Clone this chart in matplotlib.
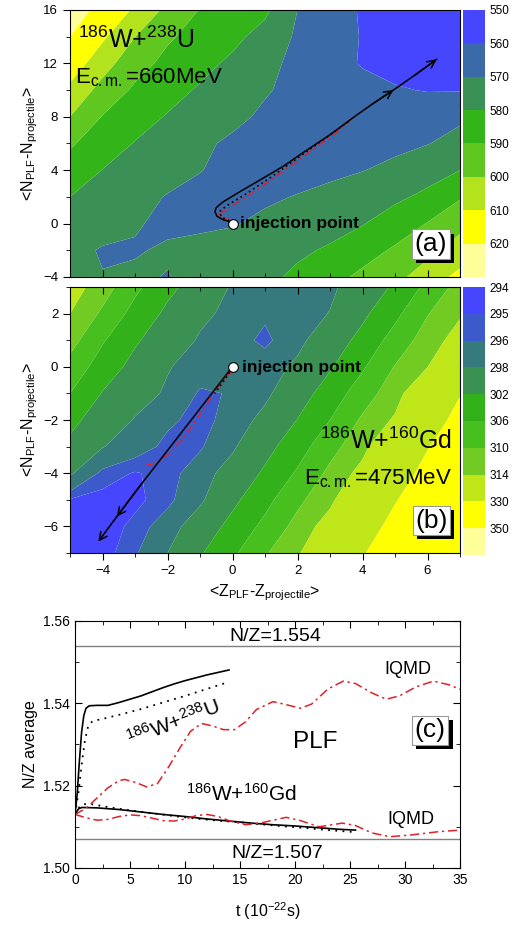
import numpy as np
import matplotlib.pyplot as plt
import matplotlib.patheffects as pe
from matplotlib.ticker import MultipleLocator

plt.rcParams['font.family'] = ['Liberation Sans', 'DejaVu Sans']
plt.rcParams['mathtext.fontset'] = 'custom'
plt.rcParams['mathtext.rm'] = 'Liberation Sans'
plt.rcParams['mathtext.it'] = 'Liberation Sans:italic'
plt.rcParams['mathtext.bf'] = 'Liberation Sans:bold'

# ---------------- (a) 186W+238U, potential surface (MeV) ----------------
z_grid = [-5, -4, -3, -2, -1, 0, 1, 2, 3, 4, 5, 6, 7]
n_rows_a = [16, 14, 12, 10, 8, 6, 4, 2, 0, -2, -4]
pes_a = [
    [625.0, 616.9, 608.8, 597.5, 589.6, 585.8, 582.0, 570.0, 564.7, 559.0, 556.0, 555.0, 555.0],
    [620.0, 611.7, 600.1, 591.3, 586.5, 582.5, 576.4, 568.6, 564.1, 559.5, 556.0, 555.0, 556.0],
    [616.0, 604.0, 593.8, 587.4, 583.0, 578.1, 572.5, 567.7, 563.4, 559.3, 557.0, 557.0, 558.0],
    [607.6, 596.6, 588.4, 583.6, 578.9, 574.9, 570.8, 567.5, 565.0, 563.0, 560.8, 559.5, 559.5],
    [600.0, 589.6, 584.3, 579.3, 575.7, 572.1, 568.5, 566.5, 565.5, 565.0, 565.5, 566.5, 568.5],
    [591.1, 585.2, 579.5, 575.5, 571.6, 568.5, 566.5, 565.5, 565.5, 566.0, 567.5, 569.7, 573.0],
    [586.2, 579.8, 576.6, 573.5, 570.3, 567.5, 566.0, 566.0, 567.5, 569.7, 572.5, 576.0, 580.0],
    [580.0, 576.4, 572.9, 569.5, 567.5, 567.5, 568.5, 570.5, 573.1, 575.6, 578.2, 582.1, 589.1],
    [576.0, 573.5, 570.5, 568.8, 568.5, 569.3, 572.0, 574.5, 577.0, 579.5, 584.6, 590.4, 597.7],
    [572.5, 569.3, 569.5, 570.8, 572.5, 574.5, 576.5, 578.6, 581.0, 586.1, 591.3, 597.5, 603.6],
    [572.0, 570.3, 571.0, 569.7, 572.5, 575.5, 578.0, 581.6, 586.8, 592.1, 597.4, 604.5, 613.0],
]
levels_a = [550, 560, 570, 580, 590, 600, 610, 620]
colors_a = ['#4646ff', '#3b6aa8', '#3b9155', '#33b51a', '#5fc71f', '#b3e31d', '#ffff00', '#ffff99']

path_a_z = [-0.1, -0.3, -0.48, -0.54, -0.5, -0.28, 0.2, 0.85, 1.6, 2.1, 3.0, 3.72, 4.3, 4.95, 5.6, 6.28]
path_a_n = [0.15, 0.3, 0.55, 0.9, 1.2, 1.64, 2.35, 3.27, 4.35, 5.2, 6.65, 7.95, 8.95, 10.0, 11.1, 12.3]
dot_a_z = [-0.1, -0.35, -0.4, -0.2, 0.4, 1.2, 2.0, 2.8, 3.6]
dot_a_n = [0.2, 0.5, 0.9, 1.3, 2.2, 3.5, 4.9, 6.3, 7.7]
red_a_z = [0.0, -0.15, -0.35, -0.45, -0.3, 0.1, 0.6, 1.2, 1.9, 2.6, 3.2, 3.72]
red_a_n = [0.1, 0.35, 0.45, 0.6, 0.9, 1.5, 2.3, 3.3, 4.5, 5.8, 6.8, 8.0]

# ---------------- (b) 186W+160Gd ----------------
n_rows_b = [3, 2, 1, 0, -1, -2, -3, -4, -5, -6, -7]
pes_b = [
    [316.0, 311.9, 306.9, 303.0, 300.1, 297.7, 297.0, 296.8, 297.5, 299.5, 302.6, 307.0, 311.5],
    [314.0, 309.3, 304.6, 301.2, 298.6, 297.3, 296.3, 296.8, 298.1, 301.2, 305.0, 309.8, 313.5],
    [311.5, 306.4, 302.5, 299.7, 297.7, 296.8, 295.6, 297.3, 299.8, 303.2, 307.6, 311.8, 316.0],
    [308.6, 304.1, 300.8, 298.2, 296.8, 296.3, 296.9, 298.5, 301.6, 305.5, 310.2, 313.9, 324.2],
    [306.0, 301.8, 299.3, 297.6, 295.8, 296.1, 297.4, 300.2, 303.8, 308.1, 312.2, 319.2, 329.5],
    [302.9, 300.3, 297.8, 296.3, 295.5, 296.6, 298.8, 302.1, 306.0, 310.6, 314.6, 324.5, 333.5],
    [301.2, 298.1, 296.8, 295.6, 295.8, 297.6, 300.7, 304.3, 308.6, 312.6, 319.8, 329.4, 337.5],
    [298.3, 295.6, 294.9, 295.4, 296.9, 299.2, 302.6, 306.5, 310.9, 315.5, 324.7, 333.4, 341.0],
    [294.9, 294.6, 294.7, 295.6, 297.5, 301.1, 304.8, 309.1, 312.9, 320.3, 329.3, 337.0, 344.0],
    [294.5, 294.4, 295.3, 296.8, 299.6, 303.2, 307.0, 311.3, 316.2, 324.9, 333.3, 341.0, 347.0],
    [294.5, 294.5, 295.8, 298.0, 301.6, 305.3, 309.6, 313.3, 320.7, 329.2, 337.0, 344.0, 349.0],
]
levels_b = [294, 295, 296, 298, 302, 306, 310, 314, 330, 350]
colors_b = ['#4646ff', '#3d5acb', '#377a7e', '#3b9152', '#33b11a', '#47bf1e', '#71cb22',
            '#bfe619', '#ffff00', '#ffff99']

path_b_z = [-0.08, -0.7, -1.4, -2.1, -2.8, -3.56]
path_b_n = [-0.12, -1.1, -2.2, -3.3, -4.4, -5.63]
ext_b_z = [-3.56, -4.13]
ext_b_n = [-5.63, -6.57]
dot_b_z = [0.0, -0.25, -0.55]
dot_b_n = [-0.05, -0.5, -1.0]
red_b_z = [0.0, -0.3, -0.6, -0.85, -1.1, -1.35, -1.6, -1.9, -2.2, -2.45, -2.75]
red_b_n = [-0.1, -0.55, -1.05, -1.5, -1.95, -2.4, -2.8, -3.2, -3.5, -3.65, -3.7]

injection = (0.0, 0.0)

# ---------------- (c) N/Z of PLF vs time ----------------
t_wu = [0, 0.2, 0.4, 0.6, 0.8, 1.0, 1.3, 2, 3, 4, 5, 6, 7, 8, 9, 10, 11, 12, 13, 14]
nz_wu = [1.513, 1.518, 1.526, 1.533, 1.537, 1.5388, 1.5394, 1.5395, 1.5395, 1.5402, 1.541,
         1.5418, 1.5428, 1.5438, 1.5447, 1.5455, 1.5462, 1.5469, 1.5475, 1.5481]
t_wu_dot = [0, 0.3, 0.6, 0.9, 1.2, 1.6, 2.5, 4, 6, 8, 10, 12, 14]
nz_wu_dot = [1.513, 1.518, 1.525, 1.531, 1.5345, 1.5357, 1.5362, 1.5372, 1.5386, 1.5402,
             1.5418, 1.5435, 1.5452]
t_wg = [0, 0.3, 0.6, 2, 4, 6, 8, 10, 12, 14, 16, 18, 20, 22, 24, 25.5]
nz_wg = [1.513, 1.5143, 1.5147, 1.5146, 1.5142, 1.5136, 1.513, 1.5125, 1.5119, 1.5114,
         1.5109, 1.5105, 1.5102, 1.5098, 1.5094, 1.5092]
t_wg_dot = [0, 0.3, 0.7, 1.5, 3, 5, 7, 9, 11, 13, 15, 17, 19, 21, 23, 25.5]
nz_wg_dot = [1.513, 1.5145, 1.5155, 1.5155, 1.5148, 1.514, 1.5133, 1.5126, 1.512, 1.5115,
             1.5111, 1.5106, 1.5101, 1.5097, 1.5092, 1.5087]
t_iqmd_u = [0, 1, 2, 3, 4, 4.5, 5.5, 6.5, 7.5, 8.5, 9.5, 10.5, 11.5, 12.5, 13.5, 14.5, 15.5,
            16.5, 18, 19, 20.5, 21.5, 23, 24.4, 25.5, 27, 28.3, 29.5, 31, 32.6, 34, 35]
nz_iqmd_u = [1.513, 1.5145, 1.517, 1.5195, 1.5212, 1.5215, 1.5208, 1.5197, 1.5205, 1.5245,
             1.529, 1.5332, 1.5351, 1.5345, 1.5336, 1.5336, 1.5355, 1.5385, 1.5404, 1.5398,
             1.5388, 1.5398, 1.5435, 1.5454, 1.5448, 1.5425, 1.541, 1.5418, 1.544, 1.5454,
             1.5445, 1.5434]
t_iqmd_g = [0, 1, 2, 3, 4, 5, 6, 7, 8, 9, 10, 11, 12, 13, 14, 15.5, 17, 19.2, 20.5, 22.2,
            24.3, 25.5, 27, 28.6, 30.5, 33, 35]
nz_iqmd_g = [1.513, 1.5122, 1.5116, 1.5118, 1.5125, 1.5129, 1.5127, 1.5121, 1.5115, 1.5114,
             1.5119, 1.5127, 1.513, 1.5125, 1.5115, 1.5105, 1.511, 1.5123, 1.5115, 1.51,
             1.5109, 1.5103, 1.5085, 1.5076, 1.508, 1.5088, 1.5092]
nz_limits = [1.554, 1.507]

RED = '#e0202a'
DASHDOT = (0, (6, 2.5, 1.5, 2.5))


def level_bar(cax, levels, colors):
    for i, c in enumerate(colors):
        cax.axhspan(i, i + 1, color=c, lw=0)
    cax.set_ylim(len(levels), 0)
    cax.set_xlim(0, 1)
    cax.set_xticks([])
    cax.set_yticks(range(len(levels)))
    cax.set_yticklabels([str(v) for v in levels])
    cax.yaxis.tick_right()
    cax.tick_params(axis='y', length=0, pad=3, labelsize=8.5)
    for s in cax.spines.values():
        s.set_visible(False)


def surface(ax, n_rows, pes, levels, colors):
    vals = np.array(pes)[::-1]
    bounds = [vals.min() - 1] + levels[1:] + [max(vals.max(), levels[-1]) + 1]
    ax.contourf(z_grid, n_rows[::-1], vals, levels=bounds, colors=colors, antialiased=True)


def tag(ax, s, x, y, size=19):
    # white framed label with a solid black drop shadow
    txt = ax.text(x, y, s, ha='center', va='center', fontsize=size, zorder=8,
                  bbox=dict(boxstyle='square,pad=0.1', fc='white', ec='0.6', lw=0.8))
    txt.get_bbox_patch().set_path_effects(
        [pe.SimplePatchShadow(offset=(3, -3), shadow_rgbFace='k', alpha=1.0), pe.Normal()])


def arrow(ax, z, n, i, style='->'):
    ax.annotate('', xy=(z[i], n[i]), xytext=(z[i - 1], n[i - 1]),
                arrowprops=dict(arrowstyle=style, color='k', lw=1.1, mutation_scale=14,
                                shrinkA=0, shrinkB=0), zorder=5)


fig = plt.figure(figsize=(5.13, 9.31), dpi=100)
ax_a = fig.add_axes([0.1365, 0.7025, 0.7602, 0.2868])
cax_a = fig.add_axes([0.9025, 0.7025, 0.0429, 0.2868])
ax_b = fig.add_axes([0.1365, 0.4060, 0.7602, 0.2857])
cax_b = fig.add_axes([0.9025, 0.4039, 0.0429, 0.2878])
ax_c = fig.add_axes([0.1462, 0.0677, 0.7505, 0.2653])

# panel (a)
surface(ax_a, n_rows_a, pes_a, levels_a, colors_a)
ax_a.plot(red_a_z, red_a_n, color=RED, lw=1.0, ls=DASHDOT, zorder=3)
ax_a.plot(dot_a_z, dot_a_n, color='k', lw=1.2, ls=(0, (1, 2)), zorder=3)
ax_a.plot(path_a_z, path_a_n, color='k', lw=1.1, zorder=4)
arrow(ax_a, path_a_z, path_a_n, 13)
arrow(ax_a, path_a_z, path_a_n, len(path_a_z) - 1)
ax_a.plot(*injection, 'o', mfc='white', mec='k', mew=0.8, ms=7, zorder=6)
ax_a.text(0.23, -0.03, 'injection point', fontsize=12.5, fontweight='bold', va='center', zorder=6)
ax_a.text(-4.75, 13.8, r'$^{186}$W+$^{238}$U', fontsize=18, va='center')
ax_a.text(-4.85, 10.95, r'E$_{\rm c.m.}$=660MeV', fontsize=16, va='center')
tag(ax_a, '(a)', 6.1, -1.53)
ax_a.set_xlim(-5, 7)
ax_a.set_ylim(-4, 16)
ax_a.xaxis.set_major_locator(MultipleLocator(2))
ax_a.xaxis.set_minor_locator(MultipleLocator(1))
ax_a.yaxis.set_major_locator(MultipleLocator(4))
ax_a.yaxis.set_minor_locator(MultipleLocator(2))
ax_a.tick_params(axis='x', which='both', direction='in', labelbottom=False)
ax_a.tick_params(axis='y', which='both', direction='out')
ax_a.tick_params(which='major', length=5, labelsize=9.5)
ax_a.tick_params(which='minor', length=3)
ax_a.set_ylabel(r'<N$_{\rm PLF}$-N$_{\rm projectile}$>', fontsize=11.5, labelpad=2)
level_bar(cax_a, levels_a, colors_a)

# panel (b)
surface(ax_b, n_rows_b, pes_b, levels_b, colors_b)
ax_b.plot(red_b_z, red_b_n, color=RED, lw=1.0, ls=DASHDOT, zorder=3)
ax_b.plot(dot_b_z, dot_b_n, color='k', lw=1.2, ls=(0, (1, 2)), zorder=3)
ax_b.plot(path_b_z, path_b_n, color='k', lw=1.1, zorder=4)
ax_b.plot(ext_b_z, ext_b_n, color='k', lw=1.1, ls=(0, (1, 2)), zorder=4)
arrow(ax_b, path_b_z, path_b_n, len(path_b_z) - 1)
arrow(ax_b, ext_b_z, ext_b_n, 1)
ax_b.plot(*injection, 'o', mfc='white', mec='k', mew=0.8, ms=7, zorder=6)
ax_b.text(0.29, -0.01, 'injection point', fontsize=12.5, fontweight='bold', va='center', zorder=6)
ax_b.text(6.75, -2.79, r'$^{186}$W+$^{160}$Gd', fontsize=18, va='center', ha='right')
ax_b.text(6.75, -4.22, r'E$_{\rm c.m.}$=475MeV', fontsize=16, va='center', ha='right')
tag(ax_b, '(b)', 6.12, -5.78)
ax_b.set_xlim(-5, 7)
ax_b.set_ylim(-7, 3)
ax_b.xaxis.set_major_locator(MultipleLocator(2))
ax_b.xaxis.set_minor_locator(MultipleLocator(1))
ax_b.yaxis.set_major_locator(MultipleLocator(2))
ax_b.yaxis.set_minor_locator(MultipleLocator(1))
ax_b.tick_params(which='both', direction='out', top=True)
ax_b.tick_params(which='major', length=5, labelsize=9.5)
ax_b.tick_params(which='minor', length=3)
for t in ax_b.xaxis.get_major_ticks() + ax_b.xaxis.get_minor_ticks():
    t.tick2line.set_marker(3)
ax_b.set_ylabel(r'<N$_{\rm PLF}$-N$_{\rm projectile}$>', fontsize=11.5, labelpad=2)
ax_b.set_xlabel(r'<Z$_{\rm PLF}$-Z$_{\rm projectile}$>', fontsize=11.5, labelpad=4)
level_bar(cax_b, levels_b, colors_b)

# panel (c)
for v in nz_limits:
    ax_c.axhline(v, color='0.5', lw=1.0)
ax_c.plot(t_wu, nz_wu, color='k', lw=1.2)
ax_c.plot(t_wu_dot, nz_wu_dot, color='k', lw=1.3, ls=(0, (1, 3)))
ax_c.plot(t_wg, nz_wg, color='k', lw=1.2)
ax_c.plot(t_wg_dot, nz_wg_dot, color='k', lw=1.3, ls=(0, (1, 3)))
ax_c.plot(t_iqmd_u, nz_iqmd_u, color=RED, lw=1.1, ls=DASHDOT)
ax_c.plot(t_iqmd_g, nz_iqmd_g, color=RED, lw=1.1, ls=DASHDOT)
ax_c.text(18.2, 1.5563, 'N/Z=%.3f' % nz_limits[0], fontsize=14, ha='center', va='center')
ax_c.text(18.4, 1.5035, 'N/Z=%.3f' % nz_limits[1], fontsize=14, ha='center', va='center')
ax_c.text(8.9, 1.5352, r'$^{186}$W+$^{238}$U', fontsize=15, rotation=21,
          rotation_mode='anchor', ha='center', va='center')
ax_c.text(15.1, 1.5179, r'$^{186}$W+$^{160}$Gd', fontsize=15, ha='center', va='center')
ax_c.text(21.8, 1.5306, 'PLF', fontsize=17.5, ha='center', va='center')
ax_c.text(30.3, 1.5481, 'IQMD', fontsize=13, ha='center', va='center')
ax_c.text(30.5, 1.5117, 'IQMD', fontsize=13, ha='center', va='center')
tag(ax_c, '(c)', 32.3, 1.5334)
ax_c.set_xlim(0, 35)
ax_c.set_ylim(1.50, 1.56)
ax_c.xaxis.set_major_locator(MultipleLocator(5))
ax_c.xaxis.set_minor_locator(MultipleLocator(2.5))
ax_c.yaxis.set_major_locator(MultipleLocator(0.02))
ax_c.yaxis.set_minor_locator(MultipleLocator(0.01))
ax_c.yaxis.set_major_formatter(plt.FormatStrFormatter('%.2f'))
ax_c.tick_params(which='both', direction='in', top=True, right=True)
ax_c.tick_params(which='major', length=5, labelsize=10)
ax_c.tick_params(which='minor', length=3)
ax_c.set_ylabel('N/Z average', fontsize=11.5)
ax_c.set_xlabel(r't (10$^{-22}$s)', fontsize=11.5, labelpad=10)

fig.savefig('out.png', dpi=100)
